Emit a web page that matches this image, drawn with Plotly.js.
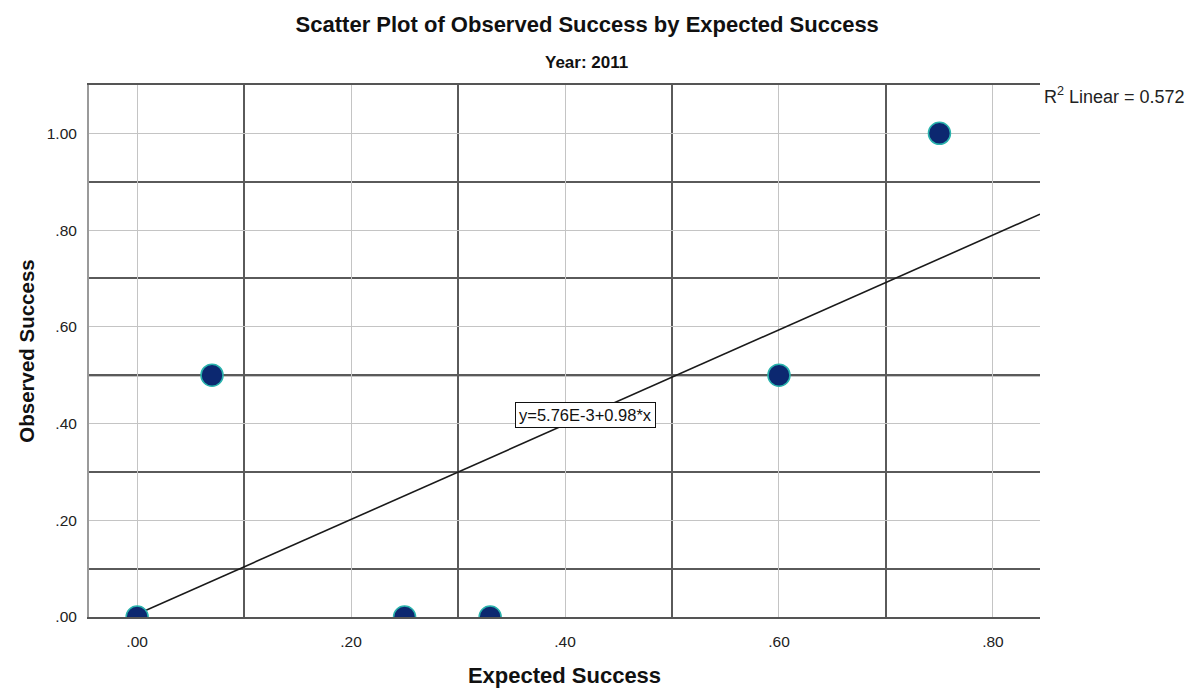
<!DOCTYPE html>
<html>
<head>
<meta charset="utf-8">
<script src="https://cdn.plot.ly/plotly-3.0.1.min.js"></script>
<style>html,body{margin:0;padding:0;background:#fff;}#chart{width:1196px;height:688px;}</style>
</head>
<body>
<div id="chart"></div>
<script>
// Data
const expectedSuccess = [0.00, 0.07, 0.25, 0.33, 0.60, 0.75];
const observedSuccess = [0.00, 0.50, 0.00, 0.00, 0.50, 1.00];

// Fit line reported on the chart
const fitIntercept = 0.00576;
const fitSlope = 0.98;
const rSquared = 0.572;
const fitLabel = "y=5.76E-3+0.98*x";

// Reference line
const refLineY = 0.5;

// Axis ranges and tick labels
const xRange = [-0.045, 0.844];
const yRange = [0, 1.1];
const xTickVals = [0, 0.2, 0.4, 0.6, 0.8];
const xTickText = [".00", ".20", ".40", ".60", ".80"];
const yTickVals = [0, 0.2, 0.4, 0.6, 0.8, 1.0];
const yTickText = [".00", ".20", ".40", ".60", ".80", "1.00"];
const xMinorVals = [0.1, 0.3, 0.5, 0.7];
const yMinorVals = [0.1, 0.3, 0.5, 0.7, 0.9];

const fitX = [-fitIntercept / fitSlope, xRange[1]];
const fitY = fitX.map(x => fitIntercept + fitSlope * x);

const FONT = "Arial, 'Liberation Sans', sans-serif";

const traces = [
  {
    x: fitX, y: fitY, type: "scatter", mode: "lines",
    line: {color: "#1a1a1a", width: 1.6},
    hoverinfo: "skip", showlegend: false
  },
  {
    x: expectedSuccess, y: observedSuccess, type: "scatter", mode: "markers",
    marker: {size: 22, color: "#0c2870", line: {color: "#2ab3ad", width: 1.5}},
    showlegend: false
  }
];

const layout = {
  width: 1196, height: 688,
  paper_bgcolor: "#ffffff", plot_bgcolor: "#ffffff",
  margin: {l: 89, r: 156, t: 85, b: 71},
  font: {family: FONT, color: "#222"},
  title: {
    text: "<b>Scatter Plot of Observed Success by Expected Success</b>",
    font: {family: FONT, size: 22, color: "#111"},
    x: 0.491, xanchor: "center", y: 0.965, yanchor: "middle"
  },
  xaxis: {
    range: xRange, tickvals: xTickVals, ticktext: xTickText,
    showgrid: true, gridcolor: "#c4c4c4", gridwidth: 1,
    minor: {tickmode: "array", tickvals: xMinorVals, showgrid: true, gridcolor: "#5a5a5a", gridwidth: 2},
    showline: true, linecolor: "#555", linewidth: 2, mirror: true,
    zeroline: false, ticks: "", ticklabelstandoff: 9,
    tickfont: {family: FONT, size: 15.5, color: "#222"},
    title: {text: "<b>Expected Success</b>", font: {family: FONT, size: 22, color: "#111"}, standoff: 24}
  },
  yaxis: {
    range: yRange, tickvals: yTickVals, ticktext: yTickText,
    showgrid: true, gridcolor: "#c4c4c4", gridwidth: 1,
    minor: {tickmode: "array", tickvals: yMinorVals, showgrid: true, gridcolor: "#5a5a5a", gridwidth: 2},
    showline: true, linecolor: "#9a9a9a", linewidth: 2, mirror: false,
    zeroline: false, ticks: "", ticklabelstandoff: 7,
    tickfont: {family: FONT, size: 15.5, color: "#222"},
    title: {text: "<b>Observed Success</b>", font: {family: FONT, size: 20.5, color: "#111"}, standoff: 7}
  },
  shapes: [
    {type: "line", xref: "paper", x0: 0, x1: 1, yref: "y", y0: refLineY, y1: refLineY,
     line: {color: "#111", width: 2.2}, layer: "below"}
  ],
  annotations: [
    {text: "<b>Year: 2011</b>", xref: "paper", yref: "paper",
     x: (586 - 89) / 951, y: 1 + (85 - 62) / 532, xanchor: "center", yanchor: "middle",
     showarrow: false, font: {family: FONT, size: 17, color: "#111"}},
    {text: "R<sup>2</sup> Linear = " + rSquared.toFixed(3), xref: "paper", yref: "paper",
     x: 1.002, y: 0.981, xanchor: "left", yanchor: "middle",
     showarrow: false, font: {family: FONT, size: 18, color: "#222"}},
    {text: fitLabel, xref: "x", yref: "y", x: 0.419, y: 0.417,
     xanchor: "center", yanchor: "middle", showarrow: false,
     bgcolor: "#ffffff", bordercolor: "#111", borderwidth: 1, borderpad: 3,
     font: {family: FONT, size: 16.5, color: "#111"}}
  ]
};

Plotly.newPlot("chart", traces, layout, {displayModeBar: false, staticPlot: true});
</script>
</body>
</html>
